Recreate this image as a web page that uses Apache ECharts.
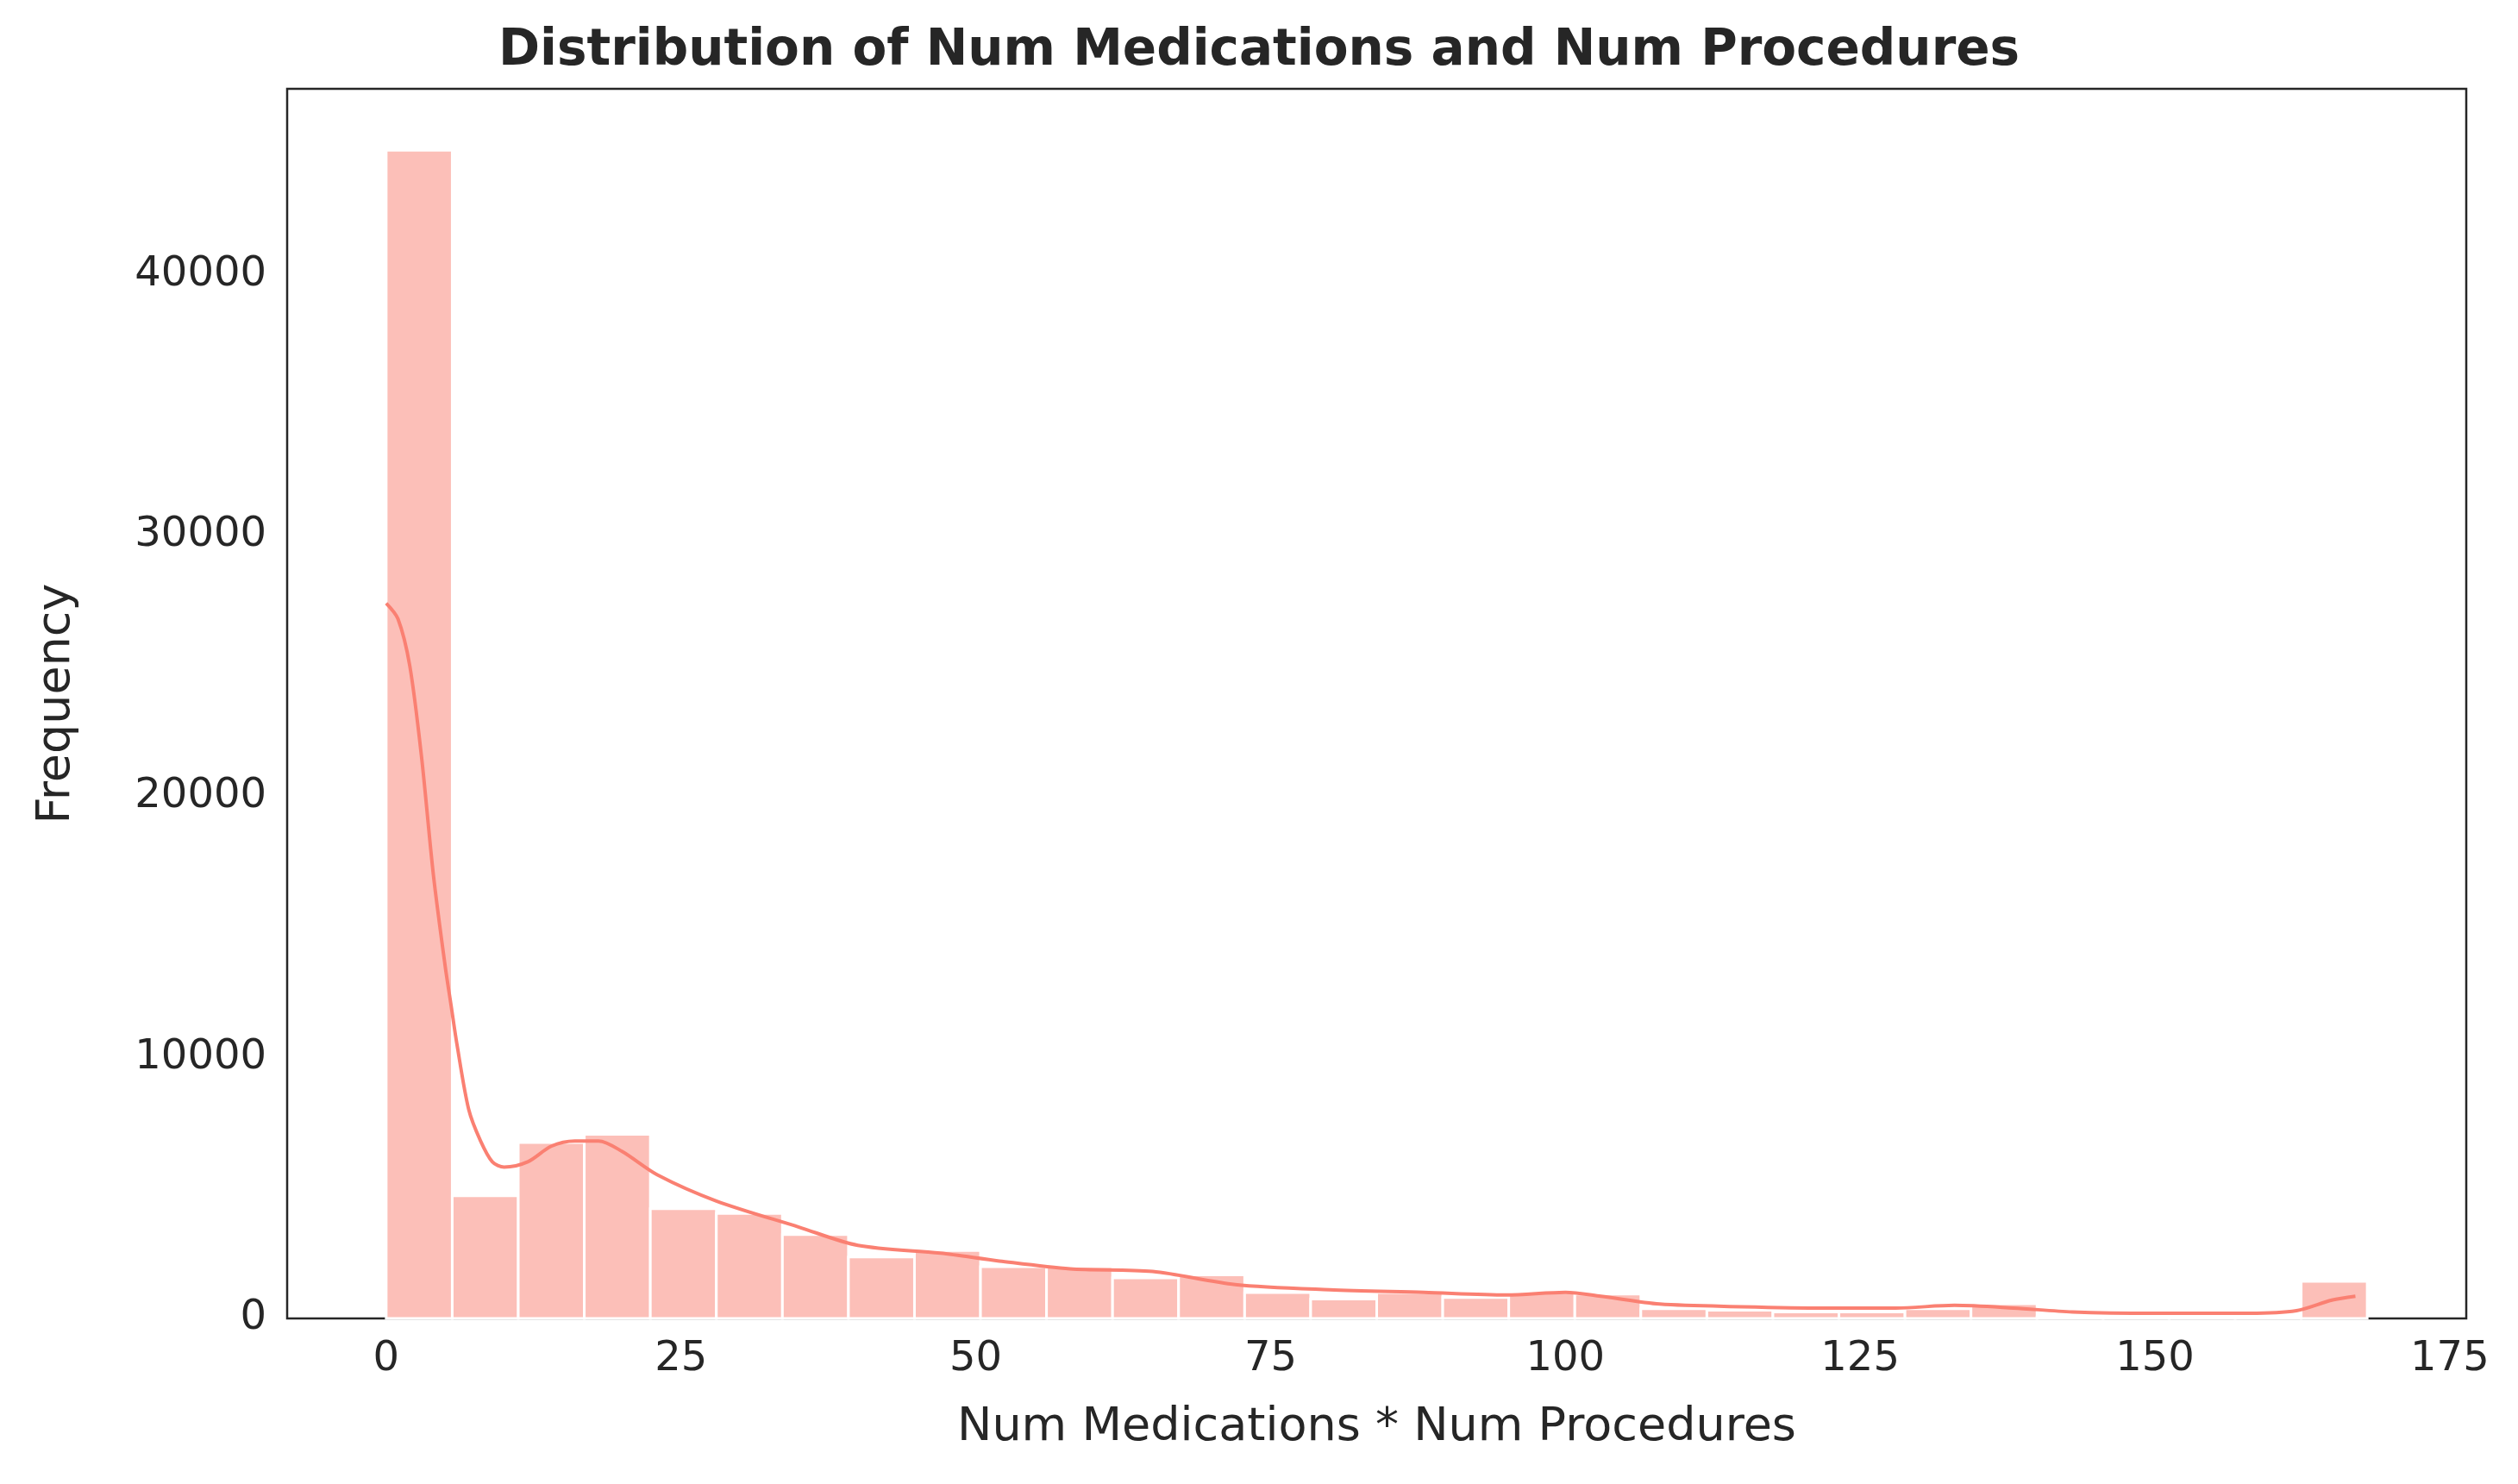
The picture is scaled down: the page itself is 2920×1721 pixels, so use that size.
<!DOCTYPE html>
<html><head><meta charset="utf-8">
<script src="https://cdn.jsdelivr.net/npm/echarts@6/dist/echarts.min.js"></script>
<style>html,body{margin:0;padding:0;background:#fff}#c{width:2920px;height:1721px}</style>
</head><body><div id="c"></div>
<script>
const binStart = 0, binWidth = 5.6;
const counts = [44760,4700,6740,7050,4200,4020,3210,2350,2600,1980,1980,1550,1670,990,740,990,800,990,930,370,310,250,250,370,560,60,60,60,60,1420];
const kdeX = [0,1,2,3,4,5,5.5,6,7,8,9,10,12,14,16,18,20,23,28,35,40,47,52,58,65,72,80,88,95,100,103,108,115,122,128,133,138,143,150,158,162,165,167];
const kdeY = [27400,26800,25000,21500,17000,13500,12000,10500,8000,6800,6000,5800,6000,6600,6800,6800,6400,5500,4500,3500,2800,2500,2200,1900,1800,1300,1100,1000,900,1000,850,550,450,400,400,500,400,250,200,200,300,700,850];
const xTicks = [0,25,50,75,100,125,150,175];
const yTicks = [0,10000,20000,30000,40000];

const bars = counts.map((c,i)=>[binStart+i*binWidth, binStart+(i+1)*binWidth, c]);
const chart = echarts.init(document.getElementById('c'));
const font = 'DejaVu Sans';
chart.setOption({
  animation:false,
  title:{text:'Distribution of Num Medications and Num Procedures',left:'center',top:26,
    textStyle:{fontFamily:font,fontWeight:'bold',fontSize:58,color:'#262626'}},
  grid:{left:333,right:60,top:103,bottom:192,show:true,borderColor:'#262626',borderWidth:2.5,backgroundColor:'transparent'},
  xAxis:{type:'value',min:-8.4,max:176.4,
    name:'Num Medications * Num Procedures',nameLocation:'middle',nameGap:100,
    nameTextStyle:{fontFamily:font,fontSize:54,color:'#262626'},
    axisLine:{show:false},axisTick:{show:false},splitLine:{show:false},
    axisLabel:{fontFamily:font,fontSize:48,color:'#262626',margin:24,customValues:xTicks,formatter:v=>String(v)}},
  yAxis:{type:'value',min:0,max:47110,
    name:'Frequency',nameLocation:'middle',nameGap:240,
    nameTextStyle:{fontFamily:font,fontSize:54,color:'#262626'},
    axisLine:{show:false},axisTick:{show:false},splitLine:{show:false},
    axisLabel:{fontFamily:font,fontSize:48,color:'#262626',margin:24,customValues:yTicks,formatter:v=>String(v)}},
  series:[
    {type:'custom',data:bars,encode:{x:[0,1],y:2},
     renderItem:(p,api)=>{
       const a=api.coord([api.value(0),api.value(2)]);
       const b=api.coord([api.value(1),0]);
       return {type:'rect',shape:{x:a[0],y:a[1],width:b[0]-a[0],height:b[1]-a[1]},
         style:{fill:'#fcbfb8',stroke:'#ffffff',lineWidth:3}};
     }},
    {type:'line',data:kdeX.map((x,i)=>[x,kdeY[i]]),smooth:0.3,showSymbol:false,
     lineStyle:{color:'#fa8072',width:4}}
  ]
});
</script></body></html>
